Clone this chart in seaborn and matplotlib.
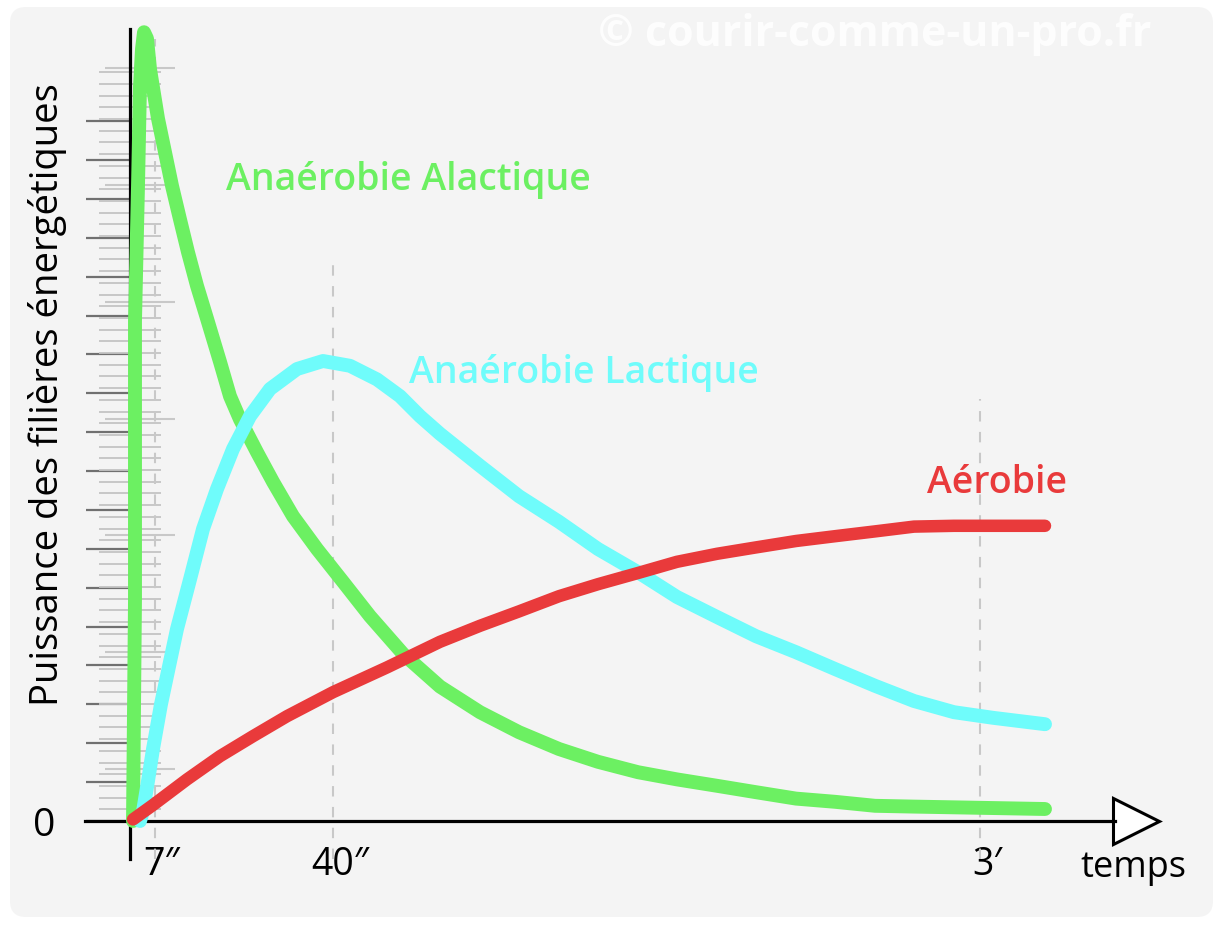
import matplotlib
matplotlib.use("Agg")
import numpy as np
import pandas as pd
import matplotlib.pyplot as plt
import seaborn as sns
from matplotlib.patches import FancyBboxPatch
from matplotlib.transforms import IdentityTransform, ScaledTranslation
from matplotlib.ticker import FixedLocator, FuncFormatter

#: values (x: time position, y: power, arbitrary units)
x_alactique = [3, 5, 5, 8, 10, 12, 14, 17, 20, 24, 28, 35, 42, 50, 58, 67, 77, 90, 100,
               110, 127, 143, 163, 187, 213, 240, 273, 310, 350, 389, 429, 468, 508,
               547, 587, 626, 666, 705, 745, 784, 915]
y_alactique = [0, 27.8, 62.5, 79.4, 91.9, 96.5, 98.6, 97.8, 94, 90.9, 87.8, 83.6, 79.4,
               75.2, 71.1, 66.9, 62.8, 57.4, 53.1, 50.2, 46.1, 42.4, 38.1, 34, 29.9,
               25.6, 20.9, 16.8, 13.6, 11.1, 9, 7.4, 6.1, 5.2, 4.4, 3.6, 2.8, 2.4, 1.9,
               1.8, 1.5]

x_lactique = [10, 13, 18, 23, 31, 40, 47, 60, 73, 87, 103, 120, 140, 167, 193, 220,
              247, 270, 290, 310, 350, 389, 429, 468, 508, 547, 587, 626, 666, 705,
              745, 784, 824, 863, 915]
y_lactique = [0, 1.2, 5, 9, 14.6, 19.9, 24, 30.2, 36.5, 41.5, 46.5, 50.6, 54, 56.5,
              57.5, 56.9, 55.2, 53.1, 50.6, 48.4, 44.4, 40.6, 37.4, 34, 31.1, 28, 25.5,
              23.1, 21.1, 19, 16.9, 15, 13.6, 12.9, 12.1]

x_aerobie = [3, 23, 57, 90, 123, 157, 203, 257, 310, 350, 389, 429, 468, 508, 547, 587,
             626, 666, 705, 745, 784, 824, 915]
y_aerobie = [0.2, 2, 5.2, 8.1, 10.6, 13.1, 16.1, 19.2, 22.4, 24.4, 26.2, 28.1, 29.6, 31,
             32.4, 33.4, 34.2, 35, 35.6, 36.2, 36.8, 36.9, 36.9]

series_names = ["Anaérobie Alactique", "Anaérobie Lactique", "Aérobie"]
tick_pos = [25, 203, 850]
tick_labels = ["7″", "40″", "3′"]
tick_line_top = [97.8, 70, 52.8]

colors = {"Anaérobie Alactique": "#6cf062",
          "Anaérobie Lactique": "#6ffcfb",
          "Aérobie": "#e93a3b"}
widths = {"Anaérobie Alactique": 10, "Anaérobie Lactique": 10, "Aérobie": 9}

df = pd.concat([
    pd.DataFrame({"t": x_alactique, "p": y_alactique, "filiere": series_names[0]}),
    pd.DataFrame({"t": x_lactique, "p": y_lactique, "filiere": series_names[1]}),
    pd.DataFrame({"t": x_aerobie, "p": y_aerobie, "filiere": series_names[2]}),
])

sns.set_theme(style="white")
plt.rcParams["font.family"] = ["Open Sans", "DejaVu Sans"]

fig = plt.figure(figsize=(12.15, 9.37), dpi=100)
fig.patch.set_facecolor("white")
bg = FancyBboxPatch((10, 19), 1203, 910, boxstyle="round,pad=0,rounding_size=16",
                    transform=IdentityTransform(), facecolor="#f4f4f4",
                    edgecolor="none", zorder=-5)
fig.patches.append(bg)

ax = fig.add_axes([0, 0, 1, 1])
ax.patch.set_visible(False)
ax.set_xlim(-130, 1085)
ax.set_ylim(-14.375, 102.75)

#: gray guides
ax.vlines(tick_pos, -4.75, tick_line_top, colors="#c8c8c8", linestyles=(0, (5, 5)),
          linewidth=1.5, zorder=1)
ax.hlines(6.5 + 14.6 * np.arange(7), -25, 45, colors="#c8c8c8", linewidth=1.5, zorder=1)

for name in series_names:
    sns.lineplot(data=df[df["filiere"] == name], x="t", y="p", color=colors[name],
                 linewidth=widths[name], sort=False, estimator=None, legend=False,
                 solid_capstyle="round", solid_joinstyle="round", ax=ax, zorder=3)

#: axes as arrows
for s in ["top", "right"]:
    ax.spines[s].set_visible(False)
ax.spines["left"].set_position(("data", 0))
ax.spines["bottom"].set_position(("data", 0))
ax.spines["left"].set_bounds(-4.75, 99)
ax.spines["bottom"].set_bounds(-45, 985)
for s in ["left", "bottom"]:
    ax.spines[s].set_color("black")
    ax.spines[s].set_linewidth(2.3)
    ax.spines[s].set_zorder(2)
ax.plot([1006], [0], marker=">", markersize=33, markerfacecolor="white",
        markeredgecolor="black", markeredgewidth=2.2, clip_on=False, zorder=2)

ax.set_xticks(tick_pos)
ax.set_xticklabels(tick_labels)
ax.tick_params(axis="x", bottom=True, length=0, pad=17, labelsize=27, colors="black")
for lbl in ax.get_xticklabels():
    lbl.set_transform(lbl.get_transform() + ScaledTranslation(7 / 100, 0, fig.dpi_scale_trans))

ax.yaxis.set_major_locator(FixedLocator(np.arange(0, 88, 4.86)))
ax.yaxis.set_major_formatter(FuncFormatter(lambda v, p: "0" if abs(v) < 1e-6 else ""))
ax.yaxis.set_minor_locator(FixedLocator(np.arange(0, 95, 1.4625)))
ax.tick_params(axis="y", which="major", left=True, direction="out", length=32, width=1.6,
               color="#707070", pad=22, labelsize=28, labelcolor="black")
ax.tick_params(axis="y", which="minor", left=True, direction="inout", length=45,
               width=1.3, color="#c4c4c4")
ax.set_xlabel("")
ax.set_ylabel("")

#: text labels
ax.text(278, 80.2, "Anaérobie Alactique", color=colors[series_names[0]], fontsize=27,
        fontweight="semibold", ha="center", va="center")
ax.text(454, 56.1, "Anaérobie Lactique", color=colors[series_names[1]], fontsize=27,
        fontweight="semibold", ha="center", va="center")
ax.text(867, 42.4, "Aérobie", color=colors[series_names[2]], fontsize=27,
        fontweight="semibold", ha="center", va="center")
ax.text(-82, 53.4, "Puissance des filières énergétiques", rotation=90, fontsize=27.5,
        ha="center", va="center", color="black")
ax.text(1003, -5.8, "temps", fontsize=26, ha="center", va="center", color="black")
ax.text(745, 98.4, "© courir-comme-un-pro.fr", fontsize=31, fontweight="bold",
        ha="center", va="center", color="white", alpha=0.85)

fig.savefig("out.png", dpi=100)
